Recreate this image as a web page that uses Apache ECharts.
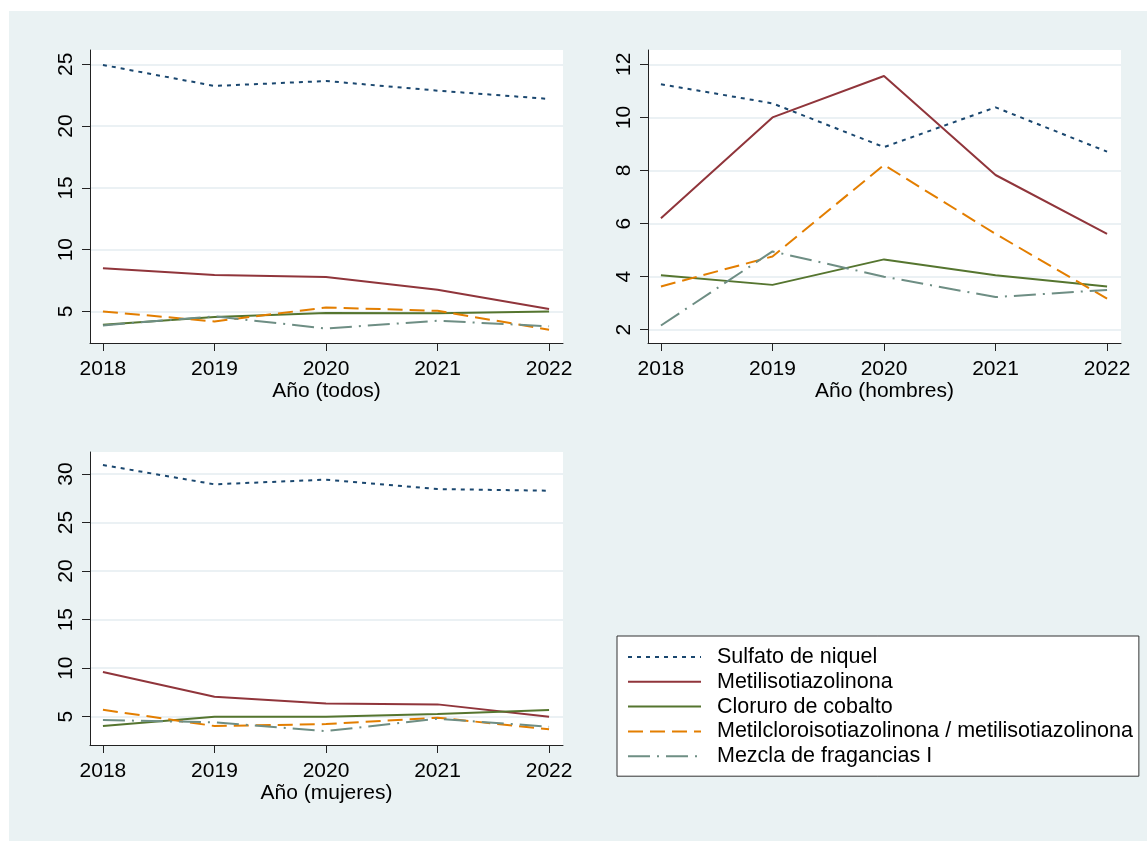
<!DOCTYPE html>
<html>
<head>
<meta charset="utf-8">
<script src="https://cdn.jsdelivr.net/npm/echarts@6/dist/echarts.min.js"></script>
<style>
  html, body { margin: 0; padding: 0; background: #fff; }
  #chart-container { width: 1147px; height: 841px; }
</style>
</head>
<body>
<div id="chart-container"></div>
<script>
// data
var years = [2018, 2019, 2020, 2021, 2022];
var names = [
  'Sulfato de niquel',
  'Metilisotiazolinona',
  'Cloruro de cobalto',
  'Metilcloroisotiazolinona / metilisotiazolinona',
  'Mezcla de fragancias I'
];
// one row per allergen, same order as names
var todos = [
  [24.95, 23.25, 23.65, 22.87, 22.2],
  [8.5, 7.94, 7.78, 6.75, 5.19],
  [3.92, 4.54, 4.87, 4.85, 5.0],
  [5.0, 4.19, 5.32, 5.05, 3.52],
  [3.87, 4.6, 3.62, 4.25, 3.8]
];
var hombres = [
  [11.25, 10.53, 8.88, 10.38, 8.71],
  [6.2, 10.0, 11.56, 7.83, 5.61],
  [4.05, 3.69, 4.65, 4.05, 3.63],
  [3.63, 4.76, 8.21, 5.61, 3.17],
  [2.16, 4.95, 4.0, 3.23, 3.5]
];
var mujeres = [
  [30.93, 28.94, 29.42, 28.45, 28.28],
  [9.6, 7.06, 6.37, 6.27, 5.0],
  [4.04, 5.0, 5.0, 5.27, 5.69],
  [5.72, 4.04, 4.24, 4.9, 3.7],
  [4.66, 4.42, 3.52, 4.79, 3.97]
];
var axisNames = ['Año (todos)', 'Año (hombres)', 'Año (mujeres)'];
var yTicks = [
  [5, 10, 15, 20, 25],
  [2, 4, 6, 8, 10, 12],
  [5, 10, 15, 20, 25, 30]
];
var yMin = [2.445, 1.5, 2.085];
var yMax = [26.16, 12.54, 32.27];

var colors = ['#1a476f', '#90353b', '#55752f', '#e37e00', '#6e8e84'];
var dashes = [[4, 5], 'solid', 'solid', [15, 7], [22, 7, 2, 7]];
var font = 'Liberation Sans, Arial, sans-serif';

var panels = [todos, hombres, mujeres];
var grids = [
  { left: 90, top: 50, width: 473, height: 293 },
  { left: 648, top: 50, width: 473, height: 293 },
  { left: 90, top: 452, width: 473, height: 293 }
];

var xAxes = [], yAxes = [], series = [];
panels.forEach(function (panel, p) {
  grids[p].show = true;
  grids[p].backgroundColor = '#fff';
  grids[p].borderWidth = 0;
  xAxes.push({
    type: 'value', gridIndex: p,
    min: 2017.884, max: 2022.125,
    name: axisNames[p], nameLocation: 'middle', nameGap: 37,
    nameTextStyle: { color: '#000', fontSize: 21, fontFamily: font },
    axisLine: { show: true, onZero: false, lineStyle: { color: '#222', width: 1 } },
    axisTick: { show: true, length: 8, customValues: years, lineStyle: { color: '#222' } },
    axisLabel: {
      customValues: years, margin: 16, color: '#000', fontSize: 21, fontFamily: font,
      formatter: function (v) { return String(v); }
    },
    splitLine: { show: false }
  });
  yAxes.push({
    type: 'value', gridIndex: p,
    min: yMin[p], max: yMax[p],
    axisLine: { show: true, onZero: false, lineStyle: { color: '#222', width: 1 } },
    axisTick: { show: true, length: 8, customValues: yTicks[p], lineStyle: { color: '#222' } },
    axisLabel: {
      customValues: yTicks[p], rotate: 90, margin: 13, color: '#000', fontSize: 21, fontFamily: font,
      formatter: function (v) { return String(v); }
    },
    splitLine: { show: true, lineStyle: { color: '#e4ecf0', width: 1.5 } }
  });
  panel.forEach(function (vals, i) {
    series.push({
      name: names[i],
      type: 'line',
      xAxisIndex: p,
      yAxisIndex: p,
      symbol: 'none',
      silent: true,
      color: colors[i],
      lineStyle: { color: colors[i], width: 2, type: dashes[i], cap: 'butt' },
      data: years.map(function (y, k) { return [y, vals[k]]; })
    });
  });
});

var myChart = echarts.init(document.getElementById('chart-container'));
var option = {
  animation: false,
  backgroundColor: '#eaf2f3',
  textStyle: { fontFamily: font },
  graphic: [
    { type: 'rect', shape: { x: 0, y: 0, width: 1147, height: 11 }, style: { fill: '#fff' }, silent: true },
    { type: 'rect', shape: { x: 0, y: 0, width: 9, height: 841 }, style: { fill: '#fff' }, silent: true }
  ],
  legend: {
    data: names,
    orient: 'vertical',
    left: 617,
    top: 636,
    padding: [10, 6, 9, 10],
    itemGap: 2.8,
    itemWidth: 73,
    itemHeight: 14,
    itemStyle: { opacity: 0 },
    backgroundColor: '#fff',
    borderColor: '#333',
    borderWidth: 1,
    borderRadius: 0,
    textStyle: { color: '#000', fontSize: 21.5, fontFamily: font, lineHeight: 21, padding: [0, 0, 0, 11] }
  },
  grid: grids,
  xAxis: xAxes,
  yAxis: yAxes,
  series: series
};
myChart.setOption(option);
</script>
</body>
</html>
